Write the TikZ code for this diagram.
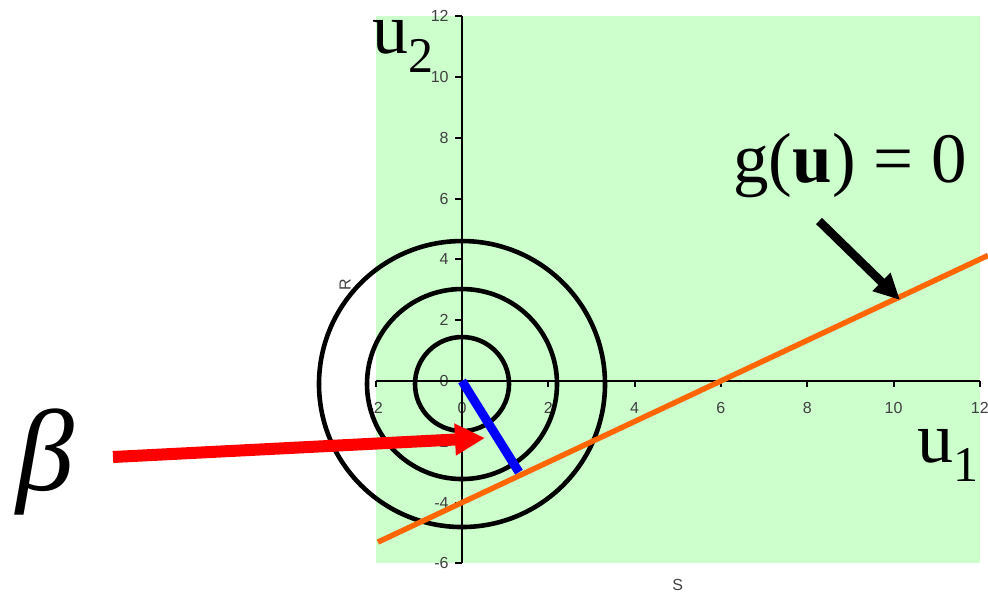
\documentclass[tikz,border=0pt]{standalone}
\usepackage{fontspec}
\setmainfont{Liberation Serif}
\setsansfont{Liberation Sans}
\usetikzlibrary{positioning,calc,arrows.meta}
\definecolor{plotgreen}{RGB}{204,255,204}
\definecolor{lineorange}{RGB}{255,102,0}
\newcommand{\lowsub}[1]{\raisebox{-9.5pt}{\fontsize{25}{25}\selectfont #1}}
\tikzset{AXIS/.style={line width=1pt}}
\tikzset{TICKLBL/.style={font=\sffamily\fontsize{8}{8}\selectfont, text=black!75, inner sep=0pt}}
\tikzset{BIGLBL/.style={font=\fontsize{36}{36}\selectfont, inner sep=0pt, anchor=base west}}
\tikzset{LEVEL/.style={line width=2.3pt}}
\tikzset{ARROW/.style={line width=6pt, -{Triangle[length=15pt,width=15pt]}}}

\begin{document}
\begin{tikzpicture}[x=0.5pt,y=-0.5pt]
\useasboundingbox (0,0) rectangle (988,597);

\begin{scope}[shift={(462,381)},x=21.575pt,y=15.2pt]
\fill[plotgreen] (-2,-6) rectangle (12,12);

\foreach \x [count=\i] in {-2,0,...,12} {
  \draw[AXIS] (\x,0) -- ++(0,-3pt);
  \node[TICKLBL] (n_xtick\i) at ($(\x,0)+(0,-13.5pt)$) {\x};
}
\foreach \y [count=\i] in {-6,-4,...,12} {
  \draw[AXIS] (0,\y) -- ++(-3.5pt,0);
  \node[TICKLBL, anchor=east] (n_ytick\i) at ($(0,\y)+(-6.5pt,0)$) {\y};
}
\draw[AXIS] (-2,0) -- (12,0);
\draw[AXIS] (0,-6) -- (0,12);

\node[TICKLBL, rotate=90] (n_rlabel) at (-2.71,3.16) {R};
\node[TICKLBL] (n_slabel) at (5,-6.71) {S};

\coordinate (c_center) at (0,-0.1);
\foreach \r in {23.5pt,47.5pt,71.5pt}
  \draw[LEVEL] (c_center) circle[radius=\r];

\coordinate (c_line_start) at (-1.95,-5.3);
\coordinate (c_line_end) at (12.19,4.13);
\draw[line width=2.7pt, lineorange] (c_line_start) -- (c_line_end);

\coordinate (c_origin) at (0,0);
\coordinate (c_foot) at (1.32,-3.0);
\draw[line width=4.5pt, blue] (c_origin) -- (c_foot);
\end{scope}

\coordinate (c_beta_tail) at (113,457);
\coordinate (c_beta_tip) at (485,438);
\draw[ARROW, red] (c_beta_tail) -- (c_beta_tip);

\coordinate (c_g_tail) at (819,221);
\coordinate (c_g_tip) at (900,300);
\draw[ARROW, line width=4.3pt, -{Triangle[length=13pt,width=12pt]}] (c_g_tail) -- (c_g_tip);

\node[BIGLBL, text height=0.47em] (n_u2) at (372,54) {u\lowsub{2}};
\node[BIGLBL, text height=0.47em] (n_u1) at (917,462) {u\lowsub{1}};
\node[BIGLBL, font=\fontsize{35.5}{35.5}\selectfont] (n_g) at (733,183) {g(\textbf{u}) = 0};
\node[BIGLBL, font=\itshape\fontsize{58}{58}\selectfont] (n_beta) at (16,490) {β};

\end{tikzpicture}
\end{document}
